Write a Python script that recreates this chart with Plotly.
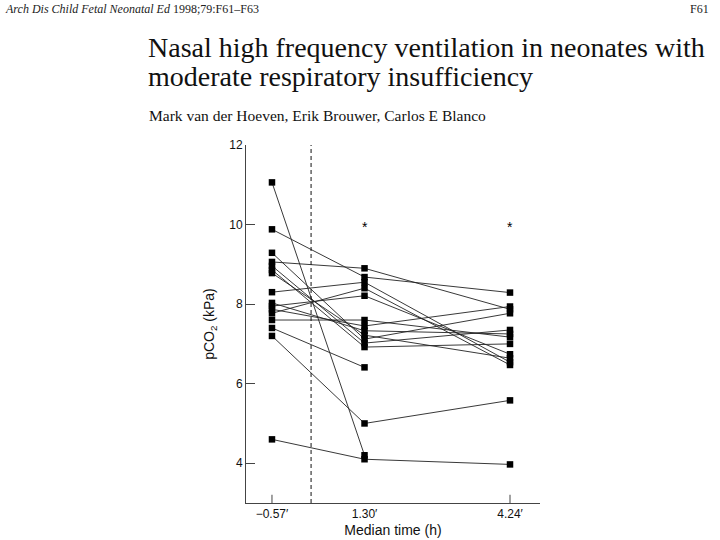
import plotly.graph_objects as go

# Data: pCO2 (kPa) per neonate at three median times
times = [-0.57, 1.30, 4.24]
time_labels = ["\u22120.57\u2032", "1.30\u2032", "4.24\u2032"]
pco2_start = [11.06, 9.88, 9.29, 9.06, 8.96, 8.86, 8.78, 8.30, 8.03, 7.95, 7.87, 7.77, 7.60, 7.40, 7.20, 4.60]
pco2_mid = [4.20, 8.68, 7.12, 8.90, 7.02, 6.92, 7.22, 8.55, 7.33, 8.21, 7.45, 8.40, 7.60, 6.41, 5.00, 4.10]
pco2_end = [None, 8.29, 7.77, 7.87, 7.35, 7.00, 6.64, 6.54, 7.25, 6.74, 7.94, 6.47, 7.17, None, 5.58, 3.97]
signif_times = [1.30, 4.24]
signif_level = [9.95, 9.95]
y_ticks = [4, 6, 8, 10, 12]
hfv_start = 0.22

fig = go.Figure()
for a, b, c in zip(pco2_start, pco2_mid, pco2_end):
    ys = [a, b] + ([c] if c is not None else [])
    fig.add_trace(go.Scatter(
        x=times[:len(ys)], y=ys, mode="lines+markers",
        line=dict(color="#222222", width=0.9),
        marker=dict(symbol="square", size=6.5, color="#000000"),
        showlegend=False, hoverinfo="skip"))

axis_font = dict(family="Liberation Sans, Arial, sans-serif", size=12, color="#111111")

fig.update_layout(
    width=720, height=540,
    margin=dict(l=246, r=180, t=145, b=37),
    paper_bgcolor="white", plot_bgcolor="white",
    font=axis_font,
    xaxis=dict(
        range=[-1.095, 4.846], tickvals=times, ticktext=time_labels,
        ticks="", showgrid=False, zeroline=False, automargin=False,
        showline=True, linecolor="#444444", linewidth=1,
        tickfont=axis_font,
        title=dict(text="Median time (h)", font=dict(family="Liberation Sans, Arial, sans-serif", size=14, color="#111111"), standoff=4),
    ),
    yaxis=dict(
        range=[3, 12], tickvals=y_ticks,
        ticks="inside", ticklen=9, tickcolor="#444444",
        showgrid=False, zeroline=False, automargin=False,
        showline=True, linecolor="#444444", linewidth=1,
        tickfont=axis_font,
        title=dict(text="pCO<sub>2</sub> (kPa)", font=dict(family="Liberation Sans, Arial, sans-serif", size=14, color="#111111"), standoff=11),
    ),
)

# significance asterisks
for t, v in zip(signif_times, signif_level):
    fig.add_annotation(x=t, y=v, xref="x", yref="y", text="*", showarrow=False,
                       font=dict(family="Liberation Sans", size=14, color="#000000"))

# x tick marks (inside) at first and last time only
for t in (times[0], times[-1]):
    fig.add_shape(type="line", xref="x", yref="paper", x0=t, x1=t, y0=0, y1=0.023,
                  line=dict(color="#444444", width=1))

# dashed line: start of nasal HFV
fig.add_shape(type="line", xref="x", yref="paper", x0=hfv_start, x1=hfv_start, y0=0, y1=1,
              line=dict(color="#111111", width=1, dash="4px,3px"))

# page-pixel -> paper coordinates
def px(x):
    return (x - 246) / 294

def py(y):
    return (503 - y) / 358

serif = "Liberation Serif, Times New Roman, serif"
fig.add_annotation(xref="paper", yref="paper", x=px(3), y=py(9), xanchor="left", yanchor="middle",
                   showarrow=False, font=dict(family=serif, size=12, color="#222222"),
                   text="<i>Arch Dis Child Fetal Neonatal Ed</i> 1998;79:F61\u2013F63")
fig.add_annotation(xref="paper", yref="paper", x=px(711), y=py(9), xanchor="right", yanchor="middle",
                   showarrow=False, font=dict(family=serif, size=12, color="#222222"), text="F61")
fig.add_annotation(xref="paper", yref="paper", x=px(146), y=py(47), xanchor="left", yanchor="middle",
                   showarrow=False, font=dict(family=serif, size=28, color="#111111"),
                   text="Nasal high frequency ventilation in neonates with")
fig.add_annotation(xref="paper", yref="paper", x=px(146), y=py(76), xanchor="left", yanchor="middle",
                   showarrow=False, font=dict(family=serif, size=28, color="#111111"),
                   text="moderate respiratory insufficiency")
fig.add_annotation(xref="paper", yref="paper", x=px(147), y=py(116), xanchor="left", yanchor="middle",
                   showarrow=False, font=dict(family=serif, size=15.5, color="#111111"),
                   text="Mark van der Hoeven, Erik Brouwer, Carlos E Blanco")

# remove the default 8px page margin so the 720x540 figure fills the window
fig.write_html("out.html", config={"displayModeBar": False},
               post_script="document.body.style.margin='0px';")
